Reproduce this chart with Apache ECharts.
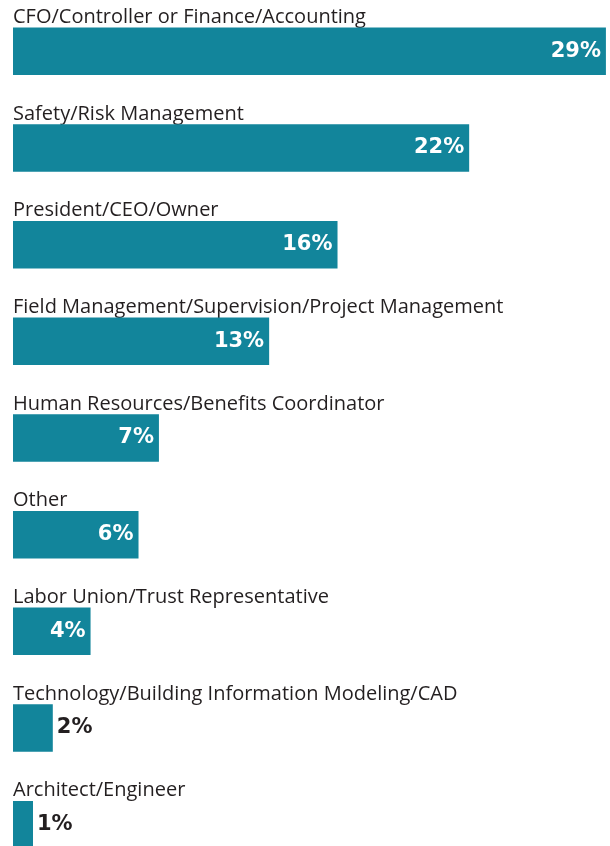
<!DOCTYPE html>
<html>
<head>
<meta charset="utf-8">
<script src="https://cdn.jsdelivr.net/npm/echarts@6/dist/echarts.min.js"></script>
<style>
  html, body { margin: 0; padding: 0; background: #fff; }
  #main { width: 610px; height: 846px; }
</style>
</head>
<body>
<div id="main"></div>
<script>
// roles, top to bottom
const categories = [
  'CFO/Controller or Finance/Accounting',
  'Safety/Risk Management',
  'President/CEO/Owner',
  'Field Management/Supervision/Project Management',
  'Human Resources/Benefits Coordinator',
  'Other',
  'Labor Union/Trust Representative',
  'Technology/Building Information Modeling/CAD',
  'Architect/Engineer'
]
// share of respondents, %
const values = [29.05, 22.35, 15.9, 12.55, 7.15, 6.15, 3.8, 1.95, 0.98]

const barColor = '#12859b'
const textColor = '#231f20'

const myChart = echarts.init(document.getElementById('main'))

myChart.setOption({
  animation: false,
  grid: {
    left: 13,
    top: 3,
    height: 870,
    width: 597,
    containLabel: false,
    outerBoundsMode: 'none'
  },
  xAxis: {
    type: 'value',
    min: 0,
    max: 29.25,
    show: false
  },
  yAxis: {
    type: 'category',
    inverse: true,
    data: categories,
    axisLine: { show: false },
    axisTick: { show: false },
    splitLine: { show: false },
    axisLabel: {
      inside: true,
      margin: 0,
      align: 'left',
      verticalAlign: 'bottom',
      padding: [0, 0, 24, 0],
      fontFamily: 'Open Sans',
      fontWeight: 500,
      fontSize: 20,
      color: textColor
    }
  },
  series: [
    {
      type: 'bar',
      barWidth: 47.5,
      itemStyle: { color: barColor },
      label: {
        show: true,
        position: 'insideRight',
        distance: 5,
        fontFamily: 'DejaVu Sans',
        fontWeight: 'bold',
        fontSize: 21,
        color: '#fff',
        formatter: p => Math.round(p.value) + '%'
      },
      data: values.map(v => v < 3
        ? { value: v, label: { position: 'right', distance: 4, color: textColor } }
        : v)
    }
  ]
})
</script>
</body>
</html>
